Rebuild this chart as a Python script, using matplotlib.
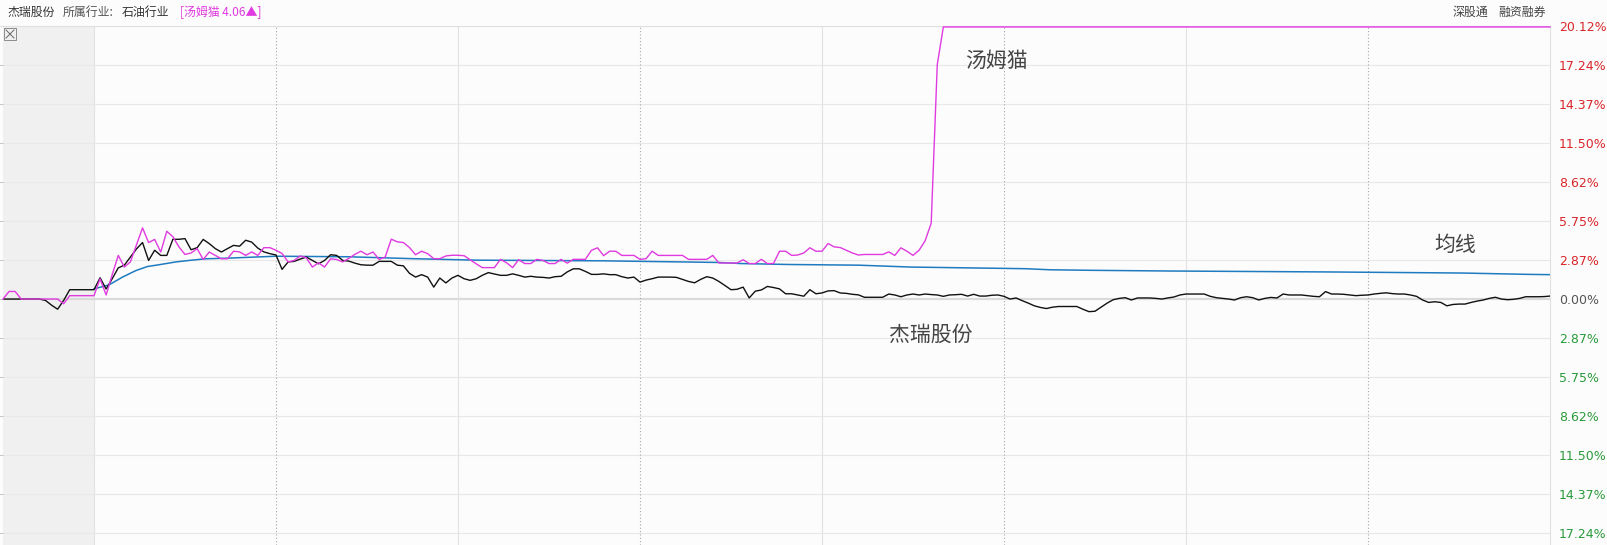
import numpy as np
import matplotlib.pyplot as plt
from matplotlib.patches import Rectangle
from matplotlib.lines import Line2D

plt.rcParams['font.family'] = ['Noto Sans CJK SC', 'DejaVu Sans']

# minutes from 9:30 (negative = pre-market auction 9:15-9:30)
pre_minutes = list(range(-15, 0))

black_pre = [0, 0, 0, 0, 0, 0, 0, -0.1, -0.45, -0.75, -0.1, 0.69, 0.69, 0.69, 0.69]
magenta_pre = [0, 0.56, 0.56, 0, 0, 0, 0, 0, 0, 0, -0.35, 0.25, 0.25, 0.25, 0.25]

# 杰瑞股份, % change, one value per minute 9:30 .. 15:00 (241 values)
jerry = [
    0.69, 1.57, 0.74, 1.5, 2.3, 2.5, 3.1, 3.7, 4.17, 2.85,
    3.6, 3.22, 3.22, 4.41, 4.41, 4.46, 3.64, 3.79, 4.4, 4.09,
    3.72, 3.47, 3.72, 3.96, 3.9, 4.34, 4.2, 3.76, 3.48, 3.35,
    3.25, 2.19, 2.74, 2.78, 2.95, 3.1, 2.85, 2.6, 2.85, 3.27,
    3.22, 2.85, 2.8, 2.65, 2.53, 2.5, 2.5, 2.78, 2.78, 2.78,
    2.5, 2.45, 1.9, 1.62, 1.8, 1.62, 0.88, 1.55, 1.19, 1.55,
    1.75, 1.5, 1.38, 1.5, 1.75, 1.95, 1.85, 1.75, 1.75, 1.86,
    1.75, 1.62, 1.68, 1.62, 1.6, 1.55, 1.65, 1.68, 2.0, 2.23,
    2.23, 2.04, 1.82, 1.82, 1.86, 1.8, 1.8, 1.65, 1.55, 1.62,
    1.25, 1.4, 1.5, 1.62, 1.62, 1.62, 1.6, 1.45, 1.3, 1.2,
    1.45, 1.65, 1.55, 1.3, 1.0, 0.69, 0.72, 0.88, 0.08, 0.58,
    0.67, 0.93, 0.85, 0.75, 0.39, 0.39, 0.3, 0.21, 0.69, 0.39,
    0.45, 0.6, 0.62, 0.45, 0.42, 0.35, 0.31, 0.13, 0.13, 0.13,
    0.13, 0.37, 0.3, 0.17, 0.3, 0.37, 0.3, 0.37, 0.33, 0.3,
    0.2, 0.3, 0.32, 0.35, 0.22, 0.35, 0.22, 0.22, 0.28, 0.3,
    0.2, 0.0, 0.08, -0.12, -0.3, -0.5, -0.62, -0.7, -0.6, -0.55,
    -0.55, -0.55, -0.55, -0.75, -0.93, -0.9, -0.6, -0.3, -0.05, 0.05,
    0.1, -0.07, 0.08, 0.08, 0.08, 0.05, 0.0, 0.08, 0.15, 0.3,
    0.37, 0.37, 0.37, 0.37, 0.2, 0.1, 0.05, 0.0, -0.07, 0.1,
    0.17, 0.1, -0.07, 0.05, 0.12, 0.08, 0.37, 0.3, 0.3, 0.3,
    0.25, 0.2, 0.17, 0.55, 0.37, 0.37, 0.35, 0.3, 0.25, 0.28,
    0.3, 0.37, 0.42, 0.46, 0.4, 0.37, 0.37, 0.3, 0.2, -0.07,
    -0.25, -0.2, -0.25, -0.5, -0.4, -0.37, -0.37, -0.25, -0.15, -0.07,
    0.05, 0.13, 0.0, -0.05, -0.02, 0.05, 0.17, 0.17, 0.17, 0.18,
    0.22,
]

# 汤姆猫, % change per minute until limit-up, then flat to the close
tom_minutes = list(range(0, 141)) + [240]
tom = [
    0.25, 1.49, 0.3, 1.8, 3.22, 2.36, 2.74, 4.0, 5.25, 4.17,
    4.4, 3.47, 5.0, 4.6, 3.85, 3.29, 3.4, 3.72, 2.92, 3.47,
    3.22, 2.97, 2.97, 3.53, 3.48, 3.22, 3.48, 3.22, 3.79, 3.79,
    3.6, 3.36, 2.74, 2.85, 3.18, 3.04, 2.36, 2.68, 2.36, 2.97,
    2.92, 2.74, 3.0, 3.3, 3.53, 3.27, 3.47, 2.92, 3.1, 4.42,
    4.22, 4.17, 3.8, 3.27, 3.53, 3.35, 2.98, 2.98, 3.18, 3.23,
    3.23, 3.2, 2.9, 2.6, 2.32, 2.32, 2.32, 2.93, 2.68, 2.32,
    2.91, 2.62, 2.62, 2.93, 2.85, 2.62, 2.62, 2.93, 2.65, 2.93,
    2.93, 2.93, 3.6, 3.78, 3.2, 3.53, 3.53, 3.22, 3.22, 3.22,
    2.93, 2.98, 3.53, 3.22, 3.22, 3.22, 3.22, 3.22, 2.93, 2.93,
    2.93, 2.93, 3.22, 2.66, 2.66, 2.66, 2.66, 2.9, 2.62, 2.62,
    2.93, 2.62, 2.62, 3.53, 3.53, 3.22, 3.25, 3.4, 3.78, 3.53,
    3.53, 4.1, 3.85, 3.8, 3.6, 3.4, 3.25, 3.29, 3.29, 3.29,
    3.29, 3.48, 3.22, 3.78, 3.53, 3.22, 3.6, 4.3, 5.6, 17.3,
    20.08, 20.08,
]

# 均线 (average price line), read at its bends
avg_minutes = [0, 2.5, 4.7, 6.9, 8.8, 10.7, 13.5, 15.7, 18.4, 22.2, 26.6, 30, 42,
               52.5, 63, 84, 103, 106.6, 114.6, 126, 134.7, 153.5, 157.6, 164.5,
               177, 203.5, 225.5, 236.5, 240]
avg_line = [0.75, 1.05, 1.62, 2.1, 2.4, 2.53, 2.74, 2.85, 2.97, 3.02, 3.1, 3.16, 3.12,
            2.98, 2.87, 2.82, 2.7, 2.62, 2.55, 2.5, 2.36, 2.24, 2.16, 2.12,
            2.07, 2.0, 1.92, 1.82, 1.8]

ytick_vals = [20.12, 17.24, 14.37, 11.50, 8.62, 5.75, 2.87, 0, -2.87, -5.75, -8.62,
              -11.50, -14.37, -17.24]
ytick_labels = ["20.12%", "17.24%", "14.37%", "11.50%", "8.62%", "5.75%", "2.87%",
                "0.00%", "2.87%", "5.75%", "8.62%", "11.50%", "14.37%", "17.24%"]
half_hours = [30, 60, 90, 120, 150, 180, 210]

W, H = 1607, 545
fig = plt.figure(figsize=(W / 100, H / 100), dpi=100, facecolor='#fcfcfc')
ax = fig.add_axes([3 / W, 0, 1547 / W, (H - 26.4) / H])
ax.set_facecolor('#fcfcfc')
ax.set_xlim(-15, 240)
ax.set_ylim(-18.15, 20.12)

ax.axvspan(-15, 0, color='#f0f0f0', lw=0, zorder=0)
ax.axvline(0, color='#e2e2e2', lw=0.8, zorder=0.5)
for v in ytick_vals:
    if v == 0:
        ax.axhline(v, color='#dadada', lw=1.6, zorder=0.5)
    else:
        ax.axhline(v, color='#e8e8e8', lw=0.8, zorder=0.5)
for i, m in enumerate(half_hours):
    if i % 2 == 0:
        ax.axvline(m, color='#a8a8a8', lw=0.8, ls=(0, (1, 2)), zorder=0.6)
    else:
        ax.axvline(m, color='#e2e2e2', lw=0.8, zorder=0.6)

ax.plot(avg_minutes, avg_line, color='#1f7bc0', lw=1.1, zorder=2)
ax.plot(pre_minutes + list(range(0, 241)), black_pre + jerry, color='#111111', lw=1.0, zorder=3)
ax.plot(pre_minutes + tom_minutes, magenta_pre + tom, color='#e03ae0', lw=1.0, zorder=4,
        clip_on=False)

ax.text(143.5, 17.6, '汤姆猫', fontsize=15, color='#444444', va='center', ha='left')
ax.text(221.0, 4.0, '均线', fontsize=15, color='#444444', va='center', ha='left')
ax.text(131.0, -2.65, '杰瑞股份', fontsize=15, color='#444444', va='center', ha='left')

for s in ['left', 'bottom']:
    ax.spines[s].set_visible(False)
ax.spines['top'].set_color('#e0e0e0')
ax.spines['top'].set_linewidth(0.8)
ax.spines['right'].set_color('#e0e0e0')
ax.spines['right'].set_linewidth(0.8)
ax.set_xticks([])
ax.set_yticks(ytick_vals)
ax.set_yticklabels(ytick_labels, family='DejaVu Sans', fontsize=9)
ax.tick_params(axis='y', left=True, right=False, labelleft=False, labelright=True,
               length=3, width=0.6, color='#bbbbbb', pad=3.6)
for v, lab in zip(ytick_vals, ax.get_yticklabels()):
    lab.set_color('#d9262b' if v > 0 else ('#555555' if v == 0 else '#2a9a3a'))

# header strip
fig.add_artist(Line2D([0, 3 / W], [1 - 26.4 / H] * 2, color='#e0e0e0', lw=0.8))
hy = 1 - 12 / H
fig.text(7 / W, hy, '杰瑞股份', fontsize=8.6, color='#333333', va='center')
fig.text(63 / W, hy, '所属行业:', fontsize=8.6, color='#555555', va='center')
fig.text(122 / W, hy, '石油行业', fontsize=8.6, color='#333333', va='center')
fig.text(180 / W, hy, '[汤姆猫 4.06▲]', fontsize=8.6, color='#e03ae0', va='center')
fig.text(1453 / W, hy, '深股通', fontsize=8.6, color='#444444', va='center')
fig.text(1498 / W, hy, '融资融券', fontsize=8.6, color='#444444', va='center')

# close box
bx, by, bs = 4, 28, 12
fig.add_artist(Rectangle((bx / W, 1 - (by + bs) / H), bs / W, bs / H,
                         transform=fig.transFigure, fill=False, ec='#8a8a8a', lw=0.7))
fig.add_artist(Line2D([(bx + 2) / W, (bx + bs - 2) / W], [1 - (by + 2) / H, 1 - (by + bs - 2) / H],
                      color='#666666', lw=0.7))
fig.add_artist(Line2D([(bx + 2) / W, (bx + bs - 2) / W], [1 - (by + bs - 2) / H, 1 - (by + 2) / H],
                      color='#666666', lw=0.7))

fig.savefig('out.png', dpi=100, facecolor=fig.get_facecolor())
